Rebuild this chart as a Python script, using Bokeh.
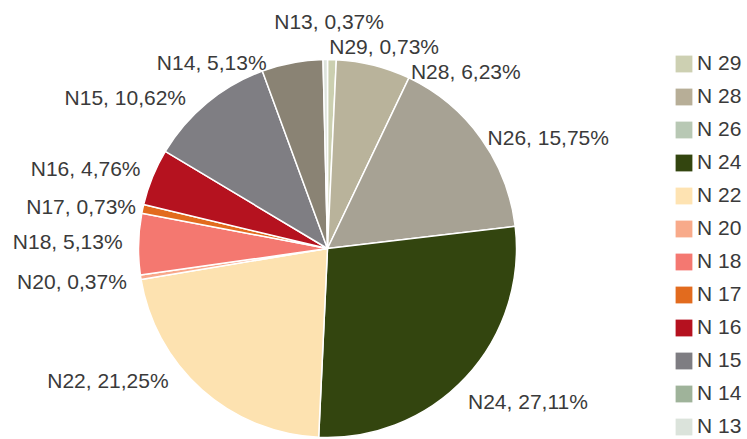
import numpy as np
from bokeh.plotting import figure
from bokeh.models import ColumnDataSource, Range1d, Legend, LegendItem
from bokeh.embed import file_html
from bokeh.resources import INLINE
from bokeh.core.properties import value, field

# ---------------- data (slices clockwise from 12 o'clock) ----------------
categories = ["N29", "N28", "N26", "N24", "N22", "N20", "N18", "N17", "N16", "N15", "N14", "N13"]
shares = [0.73, 6.23, 15.75, 27.11, 21.25, 0.37, 5.13, 0.73, 4.76, 10.62, 5.13, 0.37]
slice_colors = ["#cbcfb0", "#b9b39b", "#a7a294", "#33450f", "#fde2b0", "#f8a88a",
                "#f47870", "#e26b1e", "#b5121f", "#7f7e83", "#8a8374", "#dde3dc"]

legend_labels = ["N 29", "N 28", "N 26", "N 24", "N 22", "N 20",
                 "N 18", "N 17", "N 16", "N 15", "N 14", "N 13"]
legend_colors = ["#cdd0b2", "#b7ae97", "#b8c8b4", "#33450f", "#fee3b2", "#f8aa8a",
                 "#f47871", "#e26b1e", "#b5111f", "#7e7d82", "#9fb39a", "#dbe3db"]

# ---------------- layout ----------------
W, H = 747, 439
CX, CY = 327, H - 248
R = 189
R_LABEL = R + 14
# small pixel nudges of the data labels (screen px, +y = down)
label_nudge = [(-3, 1), (34, 20), (-5, 7), (-8, 15), (-24, -20), (0, 2),
               (-2, -2), (7, 1), (1, -3), (-12, 5), (-23, 13), (4, -24)]
FONT = "Liberation Sans"
TEXT_COLOR = "#3a3a3a"

total = sum(shares)
fr = np.array(shares) / total
cum_end = np.cumsum(fr)
cum_start = cum_end - fr
start_angle = np.pi / 2 - 2 * np.pi * cum_end
end_angle = np.pi / 2 - 2 * np.pi * cum_start
mid = 2 * np.pi * (cum_start + cum_end) / 2   # clockwise from top
dxs = np.sin(mid)
dys = np.cos(mid)

pie_src = ColumnDataSource(dict(cat=categories, share=shares,
                                start=start_angle, end=end_angle, color=slice_colors))

labels = [f"{c}, {s:.2f}".replace(".", ",") + "%" for c, s in zip(categories, shares)]
aligns = ["center" if abs(d) < 0.015 else ("left" if d > 0 else "right") for d in dxs]
lab_src = ColumnDataSource(dict(
    x=CX + R_LABEL * dxs, y=CY + R_LABEL * dys, text=labels, align=aligns,
    ox=[n[0] for n in label_nudge], oy=[n[1] for n in label_nudge]))

p = figure(width=W, height=H, x_range=Range1d(0, W), y_range=Range1d(0, H),
           output_backend="svg", toolbar_location=None, min_border=0)
p.axis.visible = False
p.grid.visible = False
p.outline_line_color = None
p.background_fill_color = "white"

p.wedge(x=CX, y=CY, radius=R, start_angle="start", end_angle="end",
        fill_color="color", line_color="white", line_width=1.5, source=pie_src)

p.text(x="x", y="y", text="text", x_offset="ox", y_offset="oy",
       text_align=field("align"), text_baseline="middle",
       text_font=value(FONT), text_font_size="21px", text_color=TEXT_COLOR,
       source=lab_src)

# legend swatches: zero-radius (invisible) wedges carrying the legend colours
items = []
for lab, col in zip(legend_labels, legend_colors):
    r = p.wedge(x=CX, y=CY, radius=0, start_angle="start", end_angle="end",
                fill_color=col, line_color=None, source=pie_src)
    items.append(LegendItem(label=lab, renderers=[r]))

legend = Legend(items=items, location=(673, 1), orientation="vertical",
                glyph_width=21, glyph_height=21, label_height=21, spacing=9,
                label_standoff=3, padding=0, margin=0,
                border_line_color=None, background_fill_alpha=0,
                label_text_font=FONT, label_text_font_size="21px",
                label_text_color=TEXT_COLOR)
p.add_layout(legend)

open("out.html", "w").write(file_html(p, INLINE))
